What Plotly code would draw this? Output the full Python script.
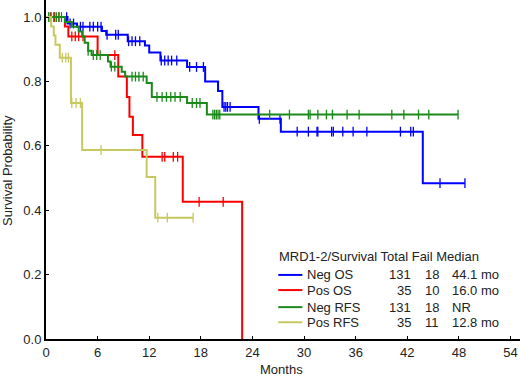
import plotly.graph_objects as go
import numpy as np

# ---- data ----
neg_os_t = [0, 2.5, 3.6, 6.5, 7.0, 9.5, 11.5, 12.0, 13.3, 16.4, 18.5, 20.0, 20.5, 24.7, 27.3, 43.8]
neg_os_s = [1.0, 0.98, 0.97, 0.957, 0.945, 0.925, 0.912, 0.89, 0.865, 0.845, 0.80, 0.77, 0.721, 0.684, 0.644, 0.484]
neg_os_end = 48.7
neg_os_cens = [2.4, 2.8, 3.2, 4.0, 4.3, 5.1, 5.5, 6.0, 6.4, 7.1, 8.1, 8.4, 9.6, 10.0, 10.4, 10.9,
               13.4, 13.8, 14.2, 14.6, 15.2, 16.7, 17.5, 18.3, 20.7, 20.9, 21.1, 21.4, 24.8, 27.2,
               29.2, 30.5, 31.5, 31.6, 33.2, 33.4, 34.5, 35.7, 37.3, 41.2, 42.4, 42.7, 45.8, 48.7]

pos_os_t = [0, 2.2, 2.6, 6.0, 8.4, 9.4, 9.7, 10.1, 11.2, 15.9, 22.8]
pos_os_s = [1.0, 0.971, 0.94, 0.882, 0.815, 0.752, 0.69, 0.634, 0.566, 0.426, 0.0]
pos_os_end = 22.8
pos_os_cens = [0.5, 1.0, 1.5, 3.0, 3.4, 3.8, 4.3, 8.0, 13.5, 13.8, 14.8, 15.3, 17.8, 20.6]

neg_rfs_t = [0, 2.2, 3.0, 3.8, 4.2, 4.5, 4.9, 5.3, 7.2, 7.5, 8.8, 9.2, 11.7, 12.3, 16.4, 18.7]
neg_rfs_s = [1.0, 0.985, 0.97, 0.955, 0.94, 0.92, 0.895, 0.882, 0.862, 0.846, 0.83, 0.815, 0.795, 0.752, 0.733, 0.697]
neg_rfs_end = 47.9
neg_rfs_cens = [0.3, 0.6, 0.9, 1.2, 1.5, 1.8, 4.9, 5.5, 5.9, 6.3, 7.6, 8.0, 10.0, 10.4, 10.8, 11.3,
                12.9, 13.5, 14.0, 14.5, 15.0, 15.6, 17.0, 17.5, 17.9, 19.4, 19.6, 19.8, 20.0, 20.2,
                26.0, 28.3, 30.5, 30.7, 31.6, 32.6, 33.3, 35.0, 36.4, 40.2, 41.6, 43.3, 44.5, 47.9]

pos_rfs_t = [0, 0.6, 0.9, 1.1, 1.6, 2.9, 4.2, 11.7, 12.7]
pos_rfs_s = [1.0, 0.971, 0.943, 0.914, 0.874, 0.733, 0.587, 0.503, 0.377]
pos_rfs_end = 17.1
pos_rfs_cens = [1.9, 2.3, 2.6, 3.0, 3.5, 4.0, 6.4, 13.0, 14.1, 17.1]

groups = ["Neg OS", "Pos OS", "Neg RFS", "Pos RFS"]
totals = ["131", "35", "131", "35"]
fails = ["18", "10", "18", "11"]
medians = ["44.1 mo", "16.0 mo", "NR", "12.8 mo"]
colors = ["#0000ff", "#ff0000", "#1a8a1a", "#c8c860"]

x_ticks = [0, 6, 12, 18, 24, 30, 36, 42, 48, 54]
y_ticks = [0.0, 0.2, 0.4, 0.6, 0.8, 1.0]

curves = [
    (neg_os_t, neg_os_s, neg_os_end, neg_os_cens),
    (pos_os_t, pos_os_s, pos_os_end, pos_os_cens),
    (neg_rfs_t, neg_rfs_s, neg_rfs_end, neg_rfs_cens),
    (pos_rfs_t, pos_rfs_s, pos_rfs_end, pos_rfs_cens),
]

fig = go.Figure()
for (t, s, end, cens), col, name in zip(curves, colors, groups):
    xs = list(t) + [end]
    ys = list(s) + [s[-1]]
    fig.add_trace(go.Scatter(x=xs, y=ys, mode="lines", line=dict(color=col, width=2, shape="hv"),
                             name=name, showlegend=False, hoverinfo="skip"))
    ta = np.array(t)
    sa = np.array(s)
    cy = [sa[np.searchsorted(ta, c, side="right") - 1] for c in cens]
    fig.add_trace(go.Scatter(x=cens, y=cy, mode="markers",
                             marker=dict(symbol="line-ns", size=7, line=dict(color=col, width=1.3)),
                             showlegend=False, hoverinfo="skip"))

font = "Liberation Sans, Arial, sans-serif"
txt = "#222222"
# legend block drawn as text
fig.add_annotation(x=26.9, y=0.255, text="MRD1-2/Survival Total Fail Median", showarrow=False,
                   xanchor="left", yanchor="middle", font=dict(size=13, color=txt, family=font))
row_y = [0.199, 0.152, 0.099, 0.052]
for i in range(4):
    fig.add_shape(type="line", x0=27.0, x1=29.8, y0=row_y[i], y1=row_y[i],
                  line=dict(color=colors[i], width=2))
    fig.add_annotation(x=30.1, y=row_y[i], text=groups[i], showarrow=False, xanchor="left",
                       yanchor="middle", font=dict(size=13, color=txt, family=font))
    fig.add_annotation(x=42.7, y=row_y[i], text=totals[i], showarrow=False, xanchor="right",
                       yanchor="middle", font=dict(size=13, color=txt, family=font))
    fig.add_annotation(x=45.9, y=row_y[i], text=fails[i], showarrow=False, xanchor="right",
                       yanchor="middle", font=dict(size=13, color=txt, family=font))
    fig.add_annotation(x=47.0, y=row_y[i], text=medians[i], showarrow=False, xanchor="left",
                       yanchor="middle", font=dict(size=13, color=txt, family=font))

# axis titles
fig.add_annotation(xref="paper", yref="paper", x=0.496, y=-0.091, text="Months", showarrow=False,
                   xanchor="center", yanchor="middle", font=dict(size=13, color=txt, family=font))
fig.add_annotation(xref="paper", yref="paper", x=-0.08, y=0.496, text="Survival Probability",
                   showarrow=False, textangle=-90, xanchor="center", yanchor="middle",
                   font=dict(size=13, color=txt, family=font))

fig.update_layout(
    width=520, height=381,
    margin=dict(l=46, r=0, t=0, b=42, pad=0),
    paper_bgcolor="white", plot_bgcolor="white",
    font=dict(family=font, size=13, color=txt),
    xaxis=dict(range=[0, 55.1], tickvals=x_ticks, ticks="inside", ticklen=3, tickcolor="black",
               showline=True, linecolor="black", linewidth=2, showgrid=False, zeroline=False,
               tickfont=dict(size=13), ticklabeloverflow="allow"),
    yaxis=dict(range=[0, 1.053], tickvals=y_ticks, tickformat=".1f", ticks="inside", ticklen=3,
               tickcolor="black", showline=True, linecolor="black", linewidth=2, showgrid=False,
               zeroline=False, tickfont=dict(size=13), ticklabeloverflow="allow"),
)
# remove the browser's default 8px body margin so the 520x381 figure fills the window
fig.write_html("out.html", config={"displayModeBar": False},
               post_script="document.body.style.margin='0px';")
